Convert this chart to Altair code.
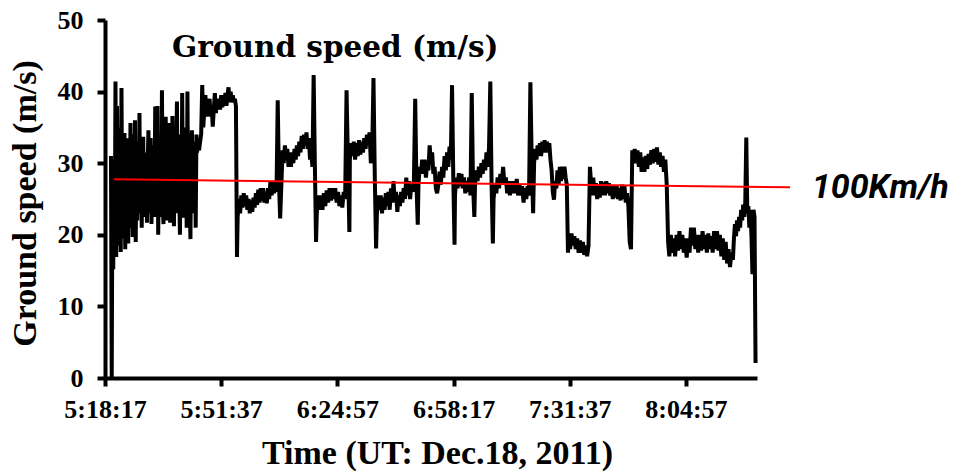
import altair as alt
import pandas as pd

# ---- data ----
# (segment start, segment end, speeds in m/s sampled evenly across the segment)
segments = [
    ("5:20:00", "5:44:31", [31.0, 0.0, 30.5, 15.2, 30.0, 17.0, 41.4, 16.9, 38.0, 20.5, 32.0, 18.5, 35.0, 17.6, 40.5,
                            22.0, 33.0, 19.5, 34.2, 18.0, 31.0, 23.0, 33.5, 18.8, 30.0, 21.0, 35.6, 22.5, 32.0, 19.7,
                            34.0, 21.5, 36.0, 19.0, 31.5, 22.0, 33.0, 24.0, 37.0, 23.0, 30.0, 21.0, 32.0, 33.7, 22.5,
                            29.0, 24.0, 31.5, 21.7, 30.0, 34.6, 23.0, 31.0, 33.5, 21.5, 28.0, 24.0, 32.5, 22.5, 37.9,
                            23.5, 31.0, 38.0, 20.0, 30.5, 23.0, 34.0, 22.5, 40.2, 24.5, 21.5, 33.0, 25.0, 36.5, 22.0,
                            31.0, 24.0, 35.6, 26.0, 21.7, 32.5, 23.5, 36.6, 25.0, 21.2, 33.0, 24.5, 31.5, 38.6, 23.0,
                            34.0, 26.0, 20.0, 32.0, 24.0, 39.8, 25.5, 22.4, 35.0, 23.5, 33.0, 21.0, 40.0, 24.0, 31.0,
                            25.0, 19.4, 32.5, 34.6, 23.0, 30.5, 24.0, 33.0, 21.0, 34.0]),
    ("5:44:40", "5:56:09", [31.5, 32.5, 31.8, 33.0, 34.0, 40.9, 35.0, 37.5, 39.5, 36.5, 38.5, 37.0, 39.0, 36.5, 38.0,
                            35.1, 37.5, 39.8, 37.0, 39.0, 37.5, 38.5, 37.5, 39.5, 37.8, 39.0, 38.0, 39.8, 38.0, 39.5,
                            40.6, 38.5, 40.0, 38.5, 39.5, 38.5, 39.0, 38.0, 16.9]),
    ("5:56:21", "6:09:14", [22.5, 25.0, 23.0, 25.5, 23.8, 25.8, 24.0, 25.5, 23.5, 25.0, 23.0, 24.8, 23.2, 25.2, 23.8,
                            25.8, 24.2, 26.3, 24.5, 26.5, 24.8, 26.5, 24.5, 26.0, 24.4, 26.5, 25.0, 27.5, 25.5, 27.5,
                            25.8, 27.5, 26.0, 38.8, 27.5, 22.3, 27.0, 31.8]),
    ("6:09:34", "6:18:50", [30.0, 32.5, 30.5, 32.0, 29.5, 31.5, 29.5, 31.5, 30.0, 32.0, 30.5, 32.5, 31.0, 33.0, 31.5,
                            33.8, 32.0, 34.0, 32.5, 34.3, 32.0, 33.5, 30.5, 31.5, 29.5, 42.3, 30.0, 19.0]),
    ("6:19:03", "6:28:24", [23.0, 25.5, 23.5, 25.5, 23.5, 25.8, 24.0, 26.2, 24.5, 26.5, 24.8, 26.5, 25.0, 26.5, 24.5,
                            26.0, 24.0, 25.5, 23.8, 26.0, 25.0, 40.2, 30.0, 20.4]),
    ("6:28:32", "6:36:04", [30.5, 32.8, 31.0, 33.0, 30.5, 32.8, 31.0, 33.2, 31.2, 33.0, 31.5, 33.5, 32.0, 34.0, 32.5,
                            34.3, 30.0, 31.5, 41.9, 28.0, 18.1]),
    ("6:36:18", "6:48:01", [23.0, 25.5, 23.5, 25.5, 23.0, 25.2, 23.5, 25.8, 24.0, 26.0, 23.5, 26.5, 24.5, 27.5, 24.5,
                            26.0, 23.2, 25.5, 24.0, 26.0, 24.5, 26.5, 25.0, 28.0, 25.5, 27.5, 25.0, 27.0, 26.0, 27.7,
                            39.0, 27.0, 21.4]),
    ("6:48:13", "6:58:34", [27.0, 29.5, 28.5, 30.5, 28.5, 30.5, 28.0, 30.0, 29.0, 32.5, 30.0, 31.5, 28.5, 29.5, 26.5,
                            25.8, 27.0, 28.8, 27.0, 29.5, 28.0, 31.0, 29.0, 31.5, 29.5, 32.3, 30.5, 40.9, 28.0, 18.6]),
    ("6:58:42", "7:04:15", [25.5, 28.0, 26.5, 28.6, 26.8, 28.5, 26.5, 28.0, 25.8, 27.5, 26.0, 28.0, 25.5, 39.8, 27.0,
                            22.5]),
    ("7:04:27", "7:09:34", [27.0, 29.0, 27.5, 29.5, 28.0, 30.0, 28.5, 30.5, 29.0, 31.5, 29.5, 32.3, 41.4, 27.0, 18.8]),
    ("7:09:46", "7:21:07", [25.0, 27.0, 25.8, 28.0, 26.5, 28.5, 27.0, 29.5, 27.0, 28.0, 25.8, 27.5, 25.5, 27.5, 25.8,
                            27.5, 25.8, 27.8, 25.5, 27.0, 25.5, 26.8, 24.5, 26.5, 25.0, 26.8, 25.5, 41.3, 30.0, 23.0]),
    ("7:21:24", "7:31:07", [30.0, 32.0, 30.5, 32.5, 31.0, 32.8, 31.0, 33.0, 31.5, 33.2, 31.5, 33.0, 31.5, 32.8, 30.5,
                            29.0, 26.0, 24.9, 27.5, 26.5, 29.0, 27.0, 29.5, 27.5, 29.5, 27.8, 29.5, 28.0, 27.0, 17.5]),
    ("7:31:19", "7:37:25", [20.0, 18.0, 20.2, 18.5, 19.8, 18.0, 19.5, 17.5, 19.2, 17.5, 19.0, 17.2, 18.5, 17.0, 18.5,
                            29.5]),
    ("7:37:38", "7:49:34", [28.0, 25.5, 28.0, 25.5, 27.2, 25.0, 27.0, 25.2, 27.5, 25.5, 27.3, 25.5, 27.5, 25.8, 27.2,
                            25.5, 26.8, 25.0, 26.8, 25.2, 26.8, 25.0, 26.5, 24.8, 27.0, 25.0, 26.8, 24.5, 25.8, 24.0,
                            19.0, 18.0, 31.8]),
    ("7:49:51", "7:59:51", [30.0, 32.0, 30.0, 31.8, 29.5, 31.5, 28.8, 30.8, 28.8, 31.0, 29.2, 31.3, 29.8, 31.8, 30.0,
                            32.0, 30.2, 32.2, 29.8, 31.5, 29.5, 31.0, 28.8, 30.5, 27.0, 19.0]),
    ("8:00:12", "8:18:26", [17.0, 20.0, 17.5, 19.5, 17.0, 20.0, 17.8, 20.5, 18.0, 20.0, 17.5, 19.5, 16.8, 19.5, 17.5,
                            21.0, 18.5, 21.0, 18.0, 20.0, 17.5, 20.0, 17.8, 20.5, 18.0, 20.0, 17.5, 20.2, 18.0, 19.8,
                            17.5, 20.5, 18.0, 20.5, 17.8, 20.0, 17.0, 19.5, 16.5, 19.0, 16.0, 18.0, 15.5, 17.5, 16.5]),
    ("8:18:44", "8:24:56", [19.5, 21.5, 19.8, 22.0, 20.5, 22.5, 21.0, 23.5, 22.0, 24.2, 22.5, 24.5, 33.6, 23.0, 24.0,
                            21.0, 23.5, 20.0, 14.5, 23.5, 22.5, 2.1]),
]

tick_labels = ["5:18:17", "5:51:37", "6:24:57", "6:58:17", "7:31:37", "8:04:57"]
x_domain = ["5:18:17", "8:25:21"]
y_ticks = [0, 10, 20, 30, 40, 50]

# reference line for 100 km/h (drawn slightly sloped in the original)
ref_start = ("5:20:52", 27.75)
ref_end = ("8:34:50", 26.63)
ref_label = ("8:41:05", 26.5, "100Km/h")
# in-plot title position
title_pos = ("5:37:32", 44.8, "Ground speed (m/s)")


def hms(s):
    h, m, sec = (int(p) for p in s.split(":"))
    return h * 3600 + m * 60 + sec


rows = []
for start, end, vals in segments:
    t0, t1 = hms(start), hms(end)
    n = len(vals)
    for i, v in enumerate(vals):
        rows.append({"t": t0 + (t1 - t0) * i / (n - 1), "speed": v})
df = pd.DataFrame(rows)

ref_df = pd.DataFrame([{"t": hms(ref_start[0]), "speed": ref_start[1],
                        "t2": hms(ref_end[0]), "speed2": ref_end[1]}])
lab_df = pd.DataFrame([{"t": hms(ref_label[0]), "speed": ref_label[1], "label": ref_label[2]}])
title_df = pd.DataFrame([{"t": hms(title_pos[0]), "speed": title_pos[1], "label": title_pos[2]}])

xscale = alt.Scale(domain=[hms(x_domain[0]), hms(x_domain[1])], nice=False, zero=False)
yscale = alt.Scale(domain=[0, 50], nice=False)

serif = "Liberation Serif"

xaxis = alt.Axis(
    values=[hms(s) for s in tick_labels],
    labelExpr="utcFormat(datum.value*1000, '%-H:%M:%S')",
    labelOverlap=False, labelFlush=False,
    title="Time (UT: Dec.18, 2011)",
    titleX=332, titleY=85, titleBaseline="alphabetic", titleAlign="center",
    labelPadding=10,
)
yaxis = alt.Axis(
    values=y_ticks,
    labelOverlap=False, labelFlush=False,
    title="Ground speed (m/s)",
    titleAngle=-90, titleX=-70, titleY=183, titleBaseline="alphabetic", titleAlign="center",
    labelPadding=14,
)

line = alt.Chart(df).mark_line(color="black", strokeWidth=4, strokeJoin="bevel").encode(
    x=alt.X("t:Q", scale=xscale, axis=xaxis),
    y=alt.Y("speed:Q", scale=yscale, axis=yaxis),
)

rule = alt.Chart(ref_df).mark_rule(color="#ff0000", strokeWidth=2).encode(
    x=alt.X("t:Q", scale=xscale), x2="t2:Q",
    y=alt.Y("speed:Q", scale=yscale), y2="speed2:Q",
)

label = alt.Chart(lab_df).mark_text(
    font="Roboto", fontWeight="bold", fontStyle="italic", fontSize=34,
    align="left", baseline="middle", color="black",
).encode(
    x=alt.X("t:Q", scale=xscale), y=alt.Y("speed:Q", scale=yscale), text="label:N"
)

title = alt.Chart(title_df).mark_text(
    font="DejaVu Serif", fontWeight="bold", fontSize=29.5,
    align="left", baseline="alphabetic", color="black",
).encode(
    x=alt.X("t:Q", scale=xscale), y=alt.Y("speed:Q", scale=yscale), text="label:N"
)

chart = alt.layer(line, rule, label, title).properties(
    width=652, height=358,
    autosize=alt.AutoSizeParams(type="none"),
    padding={"left": 105, "top": 20, "right": 200, "bottom": 95},
    background="white",
).configure_view(stroke=None).configure_axis(
    grid=False,
    domainColor="black", domainWidth=4,
    tickColor="black", tickWidth=4, tickSize=8,
    labelFont=serif, labelFontSize=26, labelFontWeight="bold", labelColor="black",
    titleFont=serif, titleFontSize=34, titleFontWeight="bold", titleColor="black",
)

chart.save("out.html", embed_options={"renderer": "svg", "actions": False})
